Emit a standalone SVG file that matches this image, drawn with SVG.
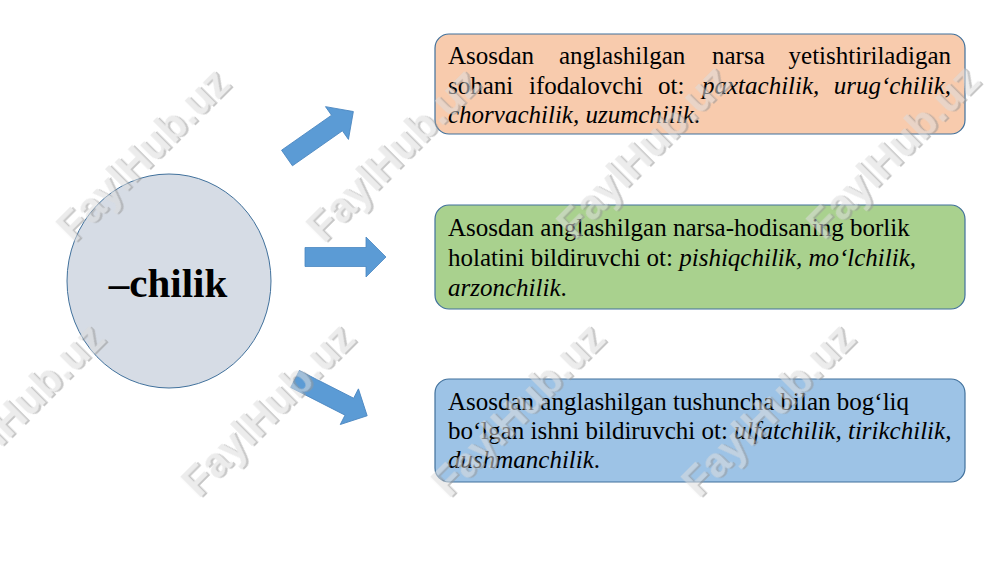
<svg xmlns="http://www.w3.org/2000/svg" width="1000" height="562" viewBox="0 0 1000 562">
  <style>
    .box { stroke: #41719C; stroke-width: 1.2; }
    .it { font-style: italic; }
    .arrow { fill: #5B9BD5; stroke: #4A86C0; stroke-width: 0.8; }
    .wm-s { fill: #9a9a9a; }
    .wm-f { fill: #dcdcdc; }
  </style>
  <defs>
    <path id="arr" d="M0,-9.5 H61 V-20 L81,0 L61,20 V9.5 H0 Z"/>
    <g id="wmark" font-family="Liberation Sans, Arial, sans-serif" font-weight="bold" font-size="42" text-anchor="middle">
      <text class="wm-s" x="1.5" y="1.5">FaylHub.uz</text>
      <text class="wm-f" x="0" y="0">FaylHub.uz</text>
    </g>
  </defs>
  <rect width="1000" height="562" fill="#ffffff"/>

  <g id="node-center">
    <ellipse cx="169" cy="281" rx="102" ry="107" fill="#D6DCE5" stroke="#41719C" stroke-width="1"/>
    <text x="168" y="297" text-anchor="middle" font-family="Liberation Serif, Times New Roman, serif" font-weight="bold" font-size="41">–chilik</text>
  </g>

  <g id="connectors">
    <use href="#arr" class="arrow" transform="translate(287,158) rotate(-35)"/>
    <use href="#arr" class="arrow" transform="translate(305,257)"/>
    <use href="#arr" class="arrow" transform="translate(295,379) rotate(27)"/>
  </g>

  <g id="node-1">
    <rect class="box" x="435" y="34" width="530" height="100" rx="14" fill="#F8CBAD"/>
    <g font-family="Liberation Serif, Times New Roman, serif" font-size="25" fill="#000">
      <text y="64"><tspan x="448">Asosdan</tspan><tspan x="559">anglashilgan</tspan><tspan x="712">narsa</tspan><tspan x="951" text-anchor="end">yetishtiriladigan</tspan></text>
      <text y="94"><tspan x="448">sohani</tspan><tspan x="529">ifodalovchi</tspan><tspan x="658">ot:</tspan><tspan x="702" class="it">paxtachilik,</tspan><tspan x="951" text-anchor="end" class="it">urug‘chilik,</tspan></text>
      <text x="448" y="123"><tspan class="it">chorvachilik, uzumchilik</tspan>.</text>
    </g>
  </g>

  <g id="node-2">
    <rect class="box" x="435" y="205" width="530" height="104" rx="14" fill="#A9D18E"/>
    <g font-family="Liberation Serif, Times New Roman, serif" font-size="25" fill="#000">
      <text x="448" y="236">Asosdan anglashilgan narsa-hodisaning borlik</text>
      <text x="448" y="266">holatini bildiruvchi ot: <tspan class="it">pishiqchilik, mo‘lchilik,</tspan></text>
      <text x="448" y="296"><tspan class="it">arzonchilik</tspan>.</text>
    </g>
  </g>

  <g id="node-3">
    <rect class="box" x="435" y="379" width="530" height="103" rx="14" fill="#9DC3E6"/>
    <g font-family="Liberation Serif, Times New Roman, serif" font-size="25" fill="#000">
      <text x="448" y="410">Asosdan anglashilgan tushuncha bilan bog‘liq</text>
      <text x="448" y="439">bo‘lgan ishni bildiruvchi ot: <tspan class="it">ulfatchilik, tirikchilik,</tspan></text>
      <text x="448" y="468"><tspan class="it">dushmanchilik</tspan>.</text>
    </g>
  </g>

  <g id="watermarks" opacity="0.55">
    <use href="#wmark" transform="translate(153,165) rotate(-45)"/>
    <use href="#wmark" transform="translate(403,165) rotate(-45)"/>
    <use href="#wmark" transform="translate(653,162) rotate(-45)"/>
    <use href="#wmark" transform="translate(903,162) rotate(-45)"/>
    <use href="#wmark" transform="translate(28,420) rotate(-45)"/>
    <use href="#wmark" transform="translate(278,420) rotate(-45)"/>
    <use href="#wmark" transform="translate(528,420) rotate(-45)"/>
    <use href="#wmark" transform="translate(778,420) rotate(-45)"/>
  </g>
</svg>
